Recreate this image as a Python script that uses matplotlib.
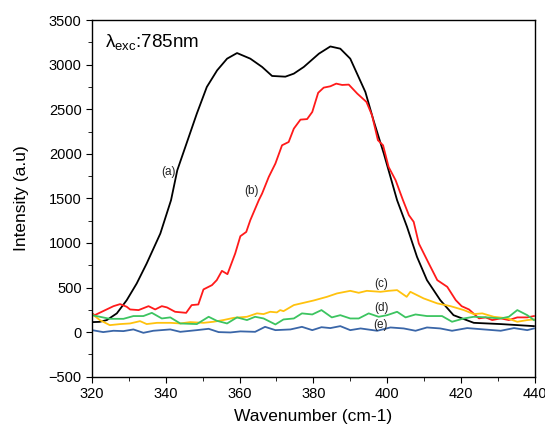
import matplotlib
matplotlib.use("Agg")
import matplotlib.pyplot as plt
from matplotlib.ticker import MultipleLocator

plt.rcParams['font.family'] = ['Liberation Sans', 'DejaVu Sans']
plt.rcParams['mathtext.fontset'] = 'custom'
plt.rcParams['mathtext.rm'] = 'Liberation Sans'

# (a) black
wn_a = [320, 322, 324, 326.7, 329.4, 332.1, 334.8, 338.5, 341.4, 343.1, 348.4, 351.1, 353.9,
        356.6, 359.3, 362.9, 366.1, 368.8, 372.4, 374.7, 377.4, 381.5, 384.6, 387.3, 390.0,
        394.1, 396.3, 399.1, 402.7, 405.4, 408.1, 410.8, 414.4, 418.0, 423.5, 430.8, 439.8]
int_a = [112, 115, 135, 210, 359, 546, 770, 1106, 1480, 1816, 2452, 2750, 2937,
         3068, 3131, 3068, 2975, 2874, 2866, 2900, 2975, 3124, 3205, 3180, 3068,
         2694, 2377, 2003, 1480, 1180, 844, 583, 359, 190, 104, 90, 67]

# (b) red
wn_b = [320, 320.7, 325.8, 327.6, 329.4, 330.3, 332.6, 335.3, 337.1, 338.9, 340.3, 342.5,
        345.5, 347.0, 348.8, 350.2, 352.5, 353.8, 355.2, 356.7, 358.8, 360.2, 361.8, 362.9,
        365.2, 366.1, 367.9, 369.7, 371.5, 373.3, 374.7, 376.5, 378.3, 379.7, 381.3, 382.8,
        384.6, 386.2, 387.8, 389.6, 391.9, 394.4, 395.9, 397.5, 398.9, 400.4, 402.3, 404.3,
        405.9, 407.2, 408.6, 411.3, 413.6, 416.3, 418.6, 420.2, 422.2, 424.9, 426.7, 428.5,
        430.8, 433.0, 435.3, 438.0, 439.8]
int_b = [210, 190, 291, 314, 284, 254, 247, 291, 254, 291, 277, 228,
         216, 303, 310, 479, 527, 583, 687, 650, 882, 1076, 1124, 1256,
         1480, 1555, 1741, 1891, 2096, 2133, 2283, 2384, 2390, 2470, 2685, 2743,
         2758, 2788, 2773, 2777, 2676, 2582, 2433, 2153, 2096, 1853, 1704, 1480,
         1312, 1237, 994, 770, 583, 508, 359, 291, 254, 154, 165, 135,
         154, 135, 165, 165, 180]

# (c) yellow
wn_c = [320, 322.1, 324.8, 327.6, 330.3, 333.0, 334.8, 337.6, 341.2, 343.9, 346.6, 350.2,
        352.9, 355.6, 358.4, 362.0, 364.7, 366.5, 368.3, 370.1, 371.0, 371.9, 374.7, 377.0,
        380.1, 383.7, 386.4, 390.0, 392.3, 394.5, 398.2, 400.4, 402.7, 405.3, 406.3, 409.9,
        413.6, 417.2, 420.8, 423.5, 425.8, 428.9, 432.6, 435.3, 438.0, 439.8]
int_c = [202, 135, 78, 90, 97, 123, 90, 104, 104, 97, 112, 104,
         116, 135, 160, 172, 210, 202, 228, 221, 247, 235, 303, 325,
         355, 396, 434, 463, 441, 463, 452, 463, 471, 396, 452, 378,
         322, 291, 247, 202, 210, 172, 154, 116, 135, 142]

# (d) green
wn_d = [320, 322.1, 324.8, 328.5, 331.2, 333.9, 336.2, 338.9, 341.2, 343.9, 348.4, 351.6,
        353.8, 356.6, 359.3, 362.0, 364.2, 366.5, 369.7, 371.9, 374.7, 376.9, 379.7, 382.2,
        385.0, 387.3, 390.0, 392.3, 395.0, 397.7, 400.0, 402.7, 405.0, 407.7, 410.8, 414.9,
        417.6, 420.8, 423.5, 427.1, 430.8, 433.0, 435.3, 438.0, 439.8]
int_d = [190, 172, 149, 149, 180, 180, 216, 153, 165, 97, 90, 172,
         127, 97, 165, 135, 172, 153, 86, 142, 153, 210, 198, 247,
         165, 190, 153, 153, 210, 172, 190, 228, 165, 198, 180, 180,
         116, 153, 172, 165, 153, 172, 247, 190, 135]

# (e) blue
wn_e = [320, 323, 325.8, 328.5, 331.2, 333.9, 336.6, 341.2, 343.9, 348.4, 351.6, 354.3,
        357.5, 360.2, 364.2, 366.9, 369.7, 373.8, 376.9, 379.7, 382.2, 384.6, 387.3, 390.0,
        392.8, 397.3, 400.9, 404.5, 407.7, 410.8, 414.4, 417.6, 421.7, 426.2, 430.8, 434.4,
        438.0, 439.8]
int_e = [22, 0, 15, 11, 30, -8, 15, 30, 3, 22, 37, 0,
         -4, 8, 3, 59, 22, 30, 59, 22, 55, 45, 67, 22,
         41, 15, 52, 41, 15, 52, 41, 15, 45, 30, 15, 45,
         22, 41]

series = [
    (wn_a, int_a, 'black', '(a)', 340.6, 1794),
    (wn_b, int_b, '#ff1a1a', '(b)', 363.1, 1584),
    (wn_c, int_c, '#ffc20e', '(c)', 398.5, 538),
    (wn_d, int_d, '#3cc460', '(d)', 398.5, 266),
    (wn_e, int_e, '#3a66a8', '(e)', 398.2, 78),
]

fig = plt.figure(figsize=(5.45, 4.29), dpi=100)
ax = fig.add_axes([0.169, 0.122, 0.812, 0.831])

for x, y, c, lab, lx, ly in series:
    ax.plot(x, y, color=c, lw=1.3)
for x, y, c, lab, lx, ly in series:
    ax.text(lx, ly, lab, fontsize=8.5, ha='center', va='center', color='#222222')

ax.text(323.5, 3250, r'λ$_{\rm exc}$:785nm', fontsize=13.5, va='center', ha='left')

ax.set_xlim(320, 440)
ax.set_ylim(-500, 3500)
ax.xaxis.set_major_locator(MultipleLocator(20))
ax.xaxis.set_minor_locator(MultipleLocator(10))
ax.yaxis.set_major_locator(MultipleLocator(500))
ax.yaxis.set_minor_locator(MultipleLocator(250))
ax.tick_params(which='both', direction='out', top=False, right=False, labelsize=10.5)
ax.tick_params(which='major', length=4)
ax.tick_params(which='minor', length=3)
for s in ax.spines.values():
    s.set_linewidth(1.0)

ax.set_xlabel('Wavenumber (cm-1)', fontsize=12.5, labelpad=6)
ax.set_ylabel('Intensity (a.u)', fontsize=12.5, labelpad=14)

fig.savefig('out.png', dpi=100)
